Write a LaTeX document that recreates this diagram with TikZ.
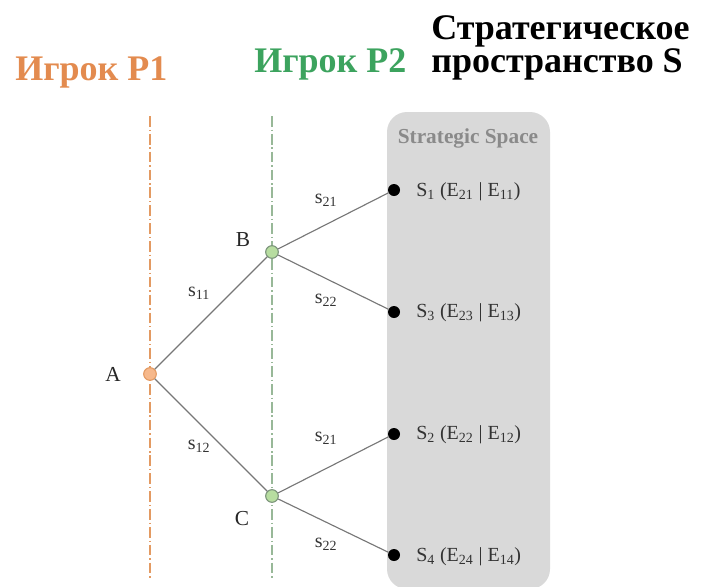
\documentclass[tikz,border=0pt]{standalone}
\usepackage{fontspec}
\setmainfont{Liberation Serif}
\usetikzlibrary{positioning}
\definecolor{Carrot}{HTML}{E38B4F}
\definecolor{CarrotLine}{HTML}{E39A62}
\definecolor{CarrotFill}{HTML}{F6B88B}
\definecolor{Leaf}{HTML}{3CA35E}
\definecolor{LeafLine}{HTML}{98B898}
\definecolor{LeafFill}{HTML}{B7DDA0}
\definecolor{Branch}{HTML}{777777}
\definecolor{Space}{HTML}{D9D9D9}
\definecolor{SpaceText}{HTML}{8A8A8A}

\begin{document}
\begin{tikzpicture}[x=0.75pt,y=-0.75pt,
    title/.style={font=\fontsize{27}{20.25}\selectfont\bfseries,inner sep=0pt,anchor=base west,align=left},
    stage/.style={line width=0.8pt,dash pattern=on 8pt off 2.2pt on 1pt off 2.2pt},
    branch/.style={draw=Branch,line width=0.85pt},
    pone/.style={circle,draw=CarrotLine,fill=CarrotFill,line width=0.8pt,minimum size=9.5pt,inner sep=0pt},
    ptwo/.style={circle,draw=LeafLine!80!black,fill=LeafFill,line width=0.8pt,minimum size=9.5pt,inner sep=0pt},
    outcome/.style={circle,fill=black,minimum size=9pt,inner sep=0pt},
    lbl/.style={font=\fontsize{16}{18}\selectfont,inner sep=0pt,text=black!85},
    move/.style={font=\fontsize{15}{17}\selectfont,inner sep=0pt,text=black!80}]
        \clip (0,0) rectangle (702,586);
        % strategic space box
        \fill[Space,rounded corners=15pt] (387,112) rectangle (550,589);
        \node[font=\fontsize{16}{18}\selectfont\bfseries,text=SpaceText,inner sep=0pt] (space) at (468,138) {Strategic Space};
        % headings
        \node[title,text=Carrot] (hone) at (15,80) {Игрок P1};
        \node[title,text=Leaf] (htwo) at (254,72) {Игрок P2};
        \node[title] (hspace) at (431,72) {Стратегическое\\пространство S};
        % decision stages
        \draw[stage,CarrotLine] (150,116) -- (150,578);
        \draw[stage,LeafLine] (272,116) -- (272,578);
        % nodes
        \node[pone] (A) at (150,374) {};
        \node[ptwo] (B) at (272,252) {};
        \node[ptwo] (C) at (272,496) {};
        \node[outcome] (S1) at (394,190) {};
        \node[outcome] (S3) at (394,312) {};
        \node[outcome] (S2) at (394,434) {};
        \node[outcome] (S4) at (394,555) {};
        \draw[branch] (A) -- (B);
        \draw[branch] (A) -- (C);
        \draw[branch] (B) -- (S1);
        \draw[branch] (B) -- (S3);
        \draw[branch] (C) -- (S2);
        \draw[branch] (C) -- (S4);
        \node[lbl] (lA) at (113,374) {A};
        \node[lbl] (lB) at (243,240) {B};
        \node[lbl] (lC) at (242,519) {C};
        \node[move] (m11) at (199,293) {s\textsubscript{11}};
        \node[move] (m12) at (199,446) {s\textsubscript{12}};
        \node[move] (m21a) at (326,200) {s\textsubscript{21}};
        \node[move] (m22a) at (326,300) {s\textsubscript{22}};
        \node[move] (m21b) at (326,438) {s\textsubscript{21}};
        \node[move] (m22b) at (326,544) {s\textsubscript{22}};
        \node[move,anchor=west] (o1) at (416,192) {S\textsubscript{1} (E\textsubscript{21} | E\textsubscript{11})};
        \node[move,anchor=west] (o3) at (416,313) {S\textsubscript{3} (E\textsubscript{23} | E\textsubscript{13})};
        \node[move,anchor=west] (o2) at (416,435) {S\textsubscript{2} (E\textsubscript{22} | E\textsubscript{12})};
        \node[move,anchor=west] (o4) at (416,557) {S\textsubscript{4} (E\textsubscript{24} | E\textsubscript{14})};
      \end{tikzpicture}
\end{document}
